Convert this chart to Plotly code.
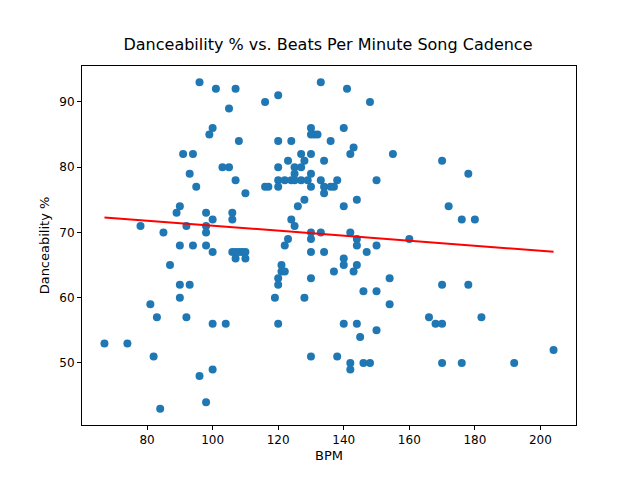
import plotly.graph_objects as go
import numpy as np

bpm = [67, 74, 78, 81, 82, 83, 84, 85, 87, 89, 90, 90, 90, 90, 91, 92, 92, 93, 93, 94,
       94, 95, 96, 96, 98, 98, 98, 98, 98, 99, 100, 100, 100, 100, 100, 101, 103, 104, 105, 105,
       106, 106, 106, 107, 107, 107, 107, 108, 108, 109, 110, 110, 110,
       116, 116, 117, 119, 120, 120, 120, 120, 120, 120, 120, 120, 121, 121, 122, 122, 122, 123, 123,
       124, 124, 124, 125, 125, 125, 125, 126, 127, 127, 127, 128, 128, 128, 129, 130, 130, 130, 130,
       130, 130, 130, 130, 130, 130, 131, 132, 133, 133, 133, 134, 134, 134, 134, 136, 136, 137, 137,
       138, 138, 140, 140, 140, 140, 140, 141, 142, 142, 142, 142, 143, 143, 144, 144, 144, 144, 144,
       145, 146, 146, 147, 148, 148, 150, 150, 150, 150, 154, 154, 155, 160,
       166, 168, 170, 170, 170, 170, 172, 176, 176, 178, 178, 180, 182, 192, 204]
dance = [53, 53, 71, 59, 51, 57, 43, 70, 65, 73, 74, 68, 62, 60, 82, 71, 57, 79, 62, 82,
         68, 77, 93, 48, 73, 71, 70, 68, 44, 85, 86, 72, 67, 56, 49, 92, 80, 56, 80, 89,
         73, 72, 67, 92, 78, 67, 66, 84, 67, 67, 76, 67, 66,
         90, 77, 77, 60, 91, 84, 80, 78, 77, 63, 62, 56, 64, 65, 78, 68, 64, 81, 69,
         84, 78, 72, 80, 79, 78, 71, 74, 82, 78, 80, 81, 75, 60, 78, 86, 85, 82, 79,
         77, 70, 69, 67, 63, 51, 85, 85, 93, 78, 70, 81, 77, 76, 67, 77, 84, 77, 64,
         78, 51, 86, 74, 66, 65, 56, 92, 82, 50, 49, 70, 83, 64, 75, 69, 65, 68, 56,
         54, 61, 50, 67, 90, 50, 78, 68, 61, 55, 63, 59, 82, 69,
         57, 56, 81, 62, 56, 50, 74, 72, 50, 79, 62, 72, 57, 50, 52]

x = np.array(bpm, dtype=float)
y = np.array(dance, dtype=float)
slope, intercept = np.polyfit(x, y, 1)
fit = slope * x + intercept

fig = go.Figure()
fig.add_trace(go.Scatter(x=x, y=y, mode="markers",
                         marker=dict(color="#1f77b4", size=8)))
fig.add_trace(go.Scatter(x=x, y=fit, mode="lines",
                         line=dict(color="red", width=2)))

axis = dict(showgrid=False, zeroline=False, showline=True, mirror=True,
            linecolor="black", linewidth=1, ticks="outside", ticklen=4,
            tickcolor="black", tickfont=dict(size=12, color="black"))
fig.update_layout(
    width=640, height=480, showlegend=False,
    paper_bgcolor="white", plot_bgcolor="white",
    font=dict(family="DejaVu Sans", color="black"),
    margin=dict(l=74, r=72, t=58, b=63),
    title=dict(text="Danceability % vs. Beats Per Minute Song Cadence",
               x=0.5, xanchor="center", y=0.935, font=dict(size=16)),
    xaxis=dict(axis, title=dict(text="BPM", font=dict(size=13), standoff=4),
               range=[60.15, 210.85], tickvals=[80, 100, 120, 140, 160, 180, 200]),
    yaxis=dict(axis, title=dict(text="Danceability %", font=dict(size=13), standoff=6),
               range=[40.5, 95.5], tickvals=[50, 60, 70, 80, 90]),
)
fig.write_html("out.html")
